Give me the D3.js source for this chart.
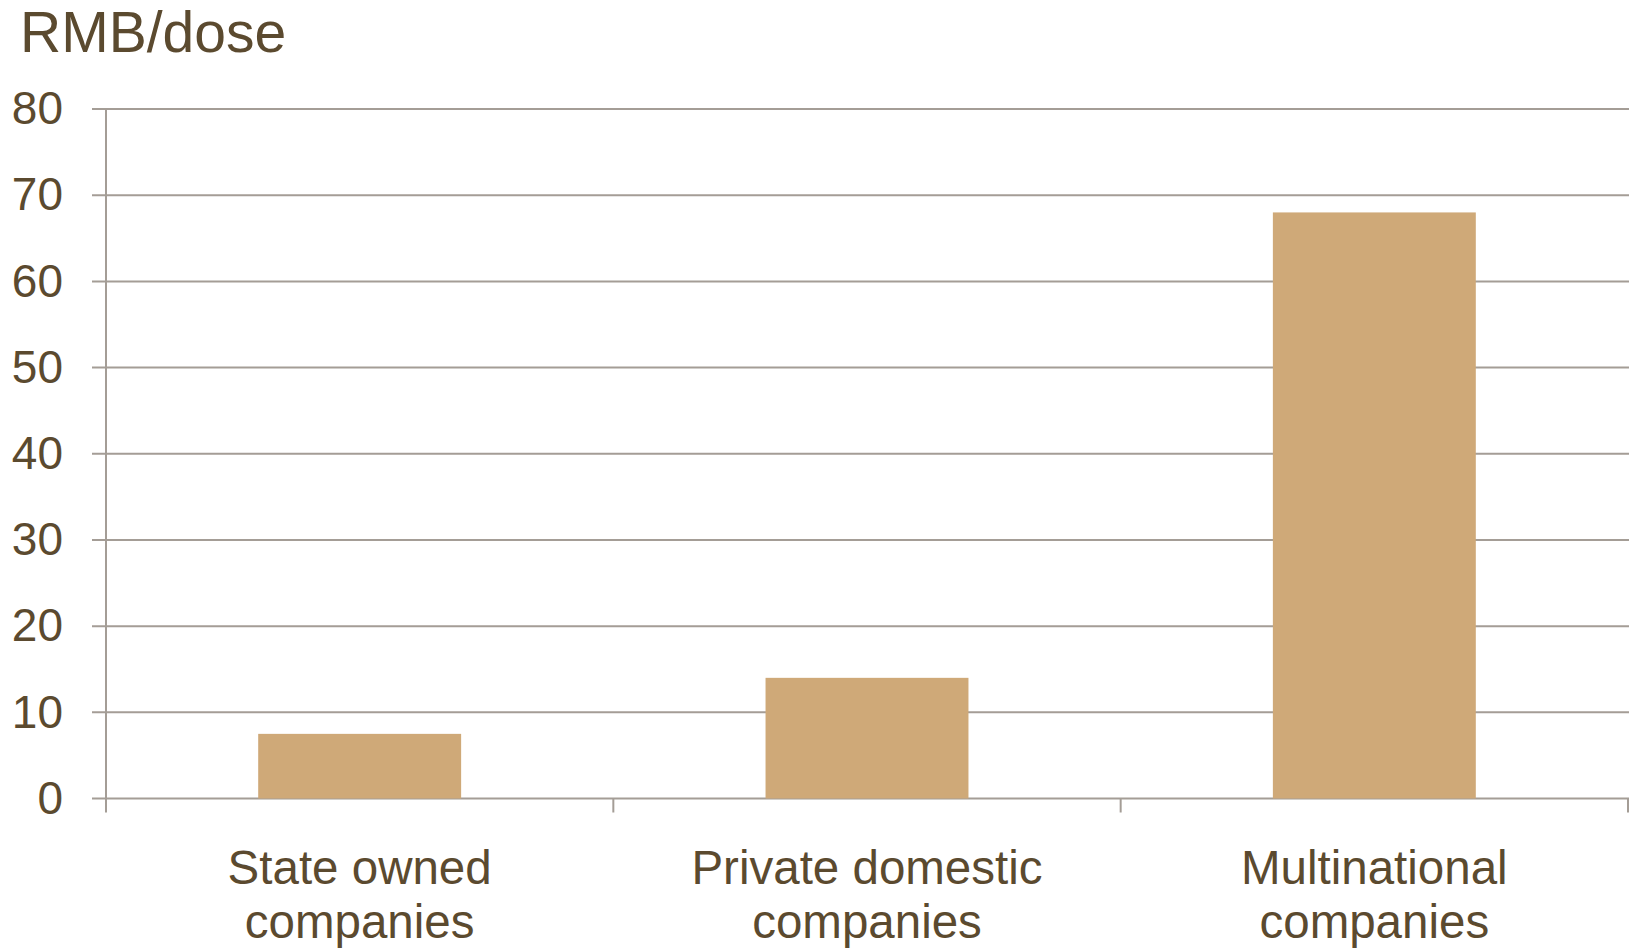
<!DOCTYPE html>
<html>
<head>
<meta charset="utf-8">
<script src="https://cdn.jsdelivr.net/npm/d3@7"></script>
<style>
  body { margin: 0; background: #fff; }
  text { font-family: "Liberation Sans", Arial, sans-serif; fill: #5b4a2f; }
</style>
</head>
<body>
<div class="container"></div>
<script>
// data
var categories = ["State owned companies", "Private domestic companies", "Multinational companies"];
var labelLines = [["State owned", "companies"], ["Private domestic", "companies"], ["Multinational", "companies"]];
var values = [7.5, 14, 68];
var yTicks = [0, 10, 20, 30, 40, 50, 60, 70, 80];
var unitLabel = "RMB/dose";

var W = 1634, H = 948;
// note: "top" is taken by window.top, so use plot* names
var plotLeft = 106, plotRight = 1628, plotTop = 109, plotBottom = 798.5;
var gridCol = "#a49d96", barCol = "#cfa978";

var svg = d3.select(".container").append("svg")
  .attr("width", W)
  .attr("height", H);

var x = d3.scaleBand().domain(categories).range([plotLeft, plotRight]).paddingInner(0.6).paddingOuter(0.3);
var y = d3.scaleLinear().domain([0, 80]).range([plotBottom, plotTop]);

// horizontal gridlines (incl. the little tick to the left)
svg.append("g").selectAll("line")
  .data(yTicks)
  .enter().append("line")
  .attr("x1", plotLeft - 14).attr("x2", plotRight + 1)
  .attr("y1", function(d) { return y(d); })
  .attr("y2", function(d) { return y(d); })
  .style("stroke", gridCol)
  .style("stroke-width", "2px");

// y tick labels
var yAxis = svg.append("g")
  .attr("transform", "translate(" + plotLeft + ",0)")
  .call(d3.axisLeft(y).tickValues(yTicks).tickSize(0).tickPadding(43));
yAxis.select(".domain").remove();
yAxis.selectAll("text")
  .style("font-size", "46px")
  .style("font-family", "'Liberation Sans', Arial, sans-serif")
  .attr("fill", "#5b4a2f");

// bars
svg.append("g").selectAll("rect")
  .data(values)
  .enter().append("rect")
  .attr("x", function(d, i) { return x(categories[i]); })
  .attr("width", x.bandwidth())
  .attr("y", function(d) { return y(d); })
  .attr("height", function(d) { return y(0) - y(d); })
  .style("fill", barCol);

// vertical axis line
svg.append("line")
  .attr("x1", plotLeft).attr("x2", plotLeft)
  .attr("y1", plotTop).attr("y2", plotBottom + 14)
  .style("stroke", gridCol)
  .style("stroke-width", "2px");

// category boundary ticks
var step = (plotRight - plotLeft) / categories.length;
var bounds = d3.range(categories.length + 1).map(function(i) { return plotLeft + i * step; });
svg.append("g").selectAll("line")
  .data(bounds.slice(1))
  .enter().append("line")
  .attr("x1", function(d) { return d; }).attr("x2", function(d) { return d; })
  .attr("y1", plotBottom).attr("y2", plotBottom + 14)
  .style("stroke", gridCol)
  .style("stroke-width", "2px");

// category labels, two lines each
var labels = svg.append("g").selectAll("text")
  .data(labelLines)
  .enter().append("text")
  .attr("text-anchor", "middle")
  .style("font-size", "47.5px");
labels.each(function(lines, i) {
  var cx = x(categories[i]) + x.bandwidth() / 2;
  d3.select(this).selectAll("tspan")
    .data(lines)
    .enter().append("tspan")
    .attr("x", cx)
    .attr("y", function(d, j) { return 884 + j * 54; })
    .text(function(d) { return d; });
});

// unit label
svg.append("text")
  .attr("x", 20)
  .attr("y", 51.5)
  .style("font-size", "57px")
  .text(unitLabel);
</script>
</body>
</html>
